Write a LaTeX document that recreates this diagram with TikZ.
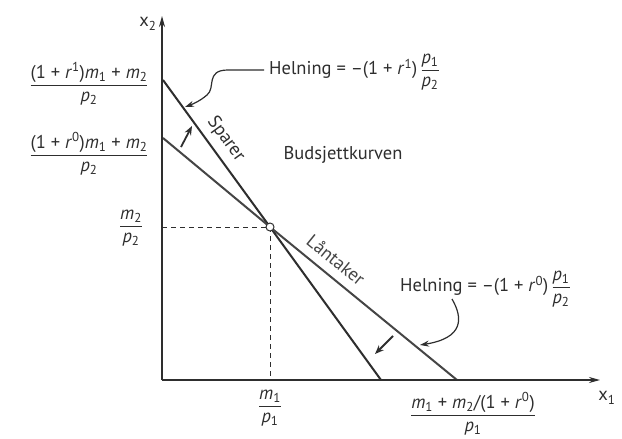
\documentclass[tikz,border=0pt]{standalone}
\usepackage{fontspec}
\setmainfont{PT Sans}
\usetikzlibrary{arrows.meta}
\newcommand{\myfr}[2]{$\displaystyle\frac{\mbox{#1}}{\mbox{#2}}$}
\newcommand{\ssub}[1]{\textsubscript{#1}}
\newcommand{\ssup}[1]{\textsuperscript{#1}}
\definecolor{ink}{HTML}{2E2E2E}
\definecolor{inkb}{HTML}{454545}
\tikzset{
  axis/.style={line width=1.5pt, draw=ink, -{Stealth[length=11pt,width=6pt]}},
  budget/.style={line width=2pt, draw=ink},
  budgetb/.style={line width=2pt, draw=inkb},
  guide/.style={line width=0.9pt, draw=ink, dash pattern=on 5pt off 4pt},
  shift arrow/.style={line width=1.8pt, draw=ink, -{Stealth[length=9pt,width=7pt]}},
  callout/.style={line width=1.2pt, draw=ink, -{Stealth[length=9pt,width=6pt]}},
  lbl/.style={text=ink, inner sep=1pt},
}
\begin{document}
\begin{tikzpicture}[x=1pt,y=-1pt, font=\fontsize{18.5}{22}\selectfont]
\useasboundingbox[fill=white] (0,0) rectangle (622,439);
% key points
\coordinate (O) at (162,380);
\coordinate (Ytop) at (162,16);
\coordinate (Xend) at (600,380);
\coordinate (A1) at (163,80);
\coordinate (B1) at (381,380);
\coordinate (A0) at (163,138);
\coordinate (B0) at (457,380);
\coordinate (Pc) at (270,227);
\coordinate (Py) at (162,227);
\coordinate (Px) at (270,380);
% guides
\draw[guide] (Py) -- (Pc) -- (Px);
% budget lines
\draw[budget] (A1) -- (Pc) -- (B1);
\draw[budgetb] (A0) -- (Pc) -- (B0);
% axes
\draw[axis] (O) -- (Ytop);
\draw[axis] (O) -- (Xend);
% intersection point
\node[circle, draw=ink, fill=white, line width=1pt, inner sep=0pt, minimum size=8pt] (P) at (Pc) {};
% axis labels
\node[lbl] (x2) at (148,24) {x\ssub{2}};
\node[lbl] (x1) at (607,398) {x\ssub{1}};
% y-axis values
\node[lbl] (y1) at (89,84) {\myfr{(1 + \textit{r}\ssup{1})\textit{m}\ssub{1} + \textit{m}\ssub{2}}{\textit{p}\ssub{2}}};
\node[lbl] (y0) at (89,154) {\myfr{(1 + \textit{r}\ssup{0})\textit{m}\ssub{1} + \textit{m}\ssub{2}}{\textit{p}\ssub{2}}};
\node[lbl] (ym) at (131,228) {\myfr{\textit{m}\ssub{2}}{\textit{p}\ssub{2}}};
% x-axis values
\node[lbl] (xm) at (270,408) {\myfr{\textit{m}\ssub{1}}{\textit{p}\ssub{1}}};
\node[lbl] (xe) at (473,414) {\myfr{\textit{m}\ssub{1} + \textit{m}\ssub{2}/(1 + \textit{r}\ssup{0})}{\textit{p}\ssub{1}}};
% line labels
\node[lbl, rotate=-54] (sp) at (226,139) {Sparer};
\node[lbl, rotate=-39, text=inkb] (la) at (336,260) {Låntaker};
\node[lbl] (bk) at (343,155) {Budsjettkurven};
% slope labels
\node[lbl, anchor=west] (h1) at (268,72) {Helning = –(1 + \textit{r}\ssup{1})\,\myfr{\textit{p}\ssub{1}}{\textit{p}\ssub{2}}};
\node[lbl, anchor=west] (h0) at (399,289) {Helning = –(1 + \textit{r}\ssup{0})\,\myfr{\textit{p}\ssub{1}}{\textit{p}\ssub{2}}};
% callout arrows
\coordinate (c1s) at (264,70);
\coordinate (c1e) at (185,107);
\draw[callout] (c1s) -- (228,70) .. controls (205,70) and (216,88) .. (207,95) .. controls (200,101) and (193,104) .. (c1e);
\coordinate (c0s) at (452,299);
\coordinate (c0e) at (420,345);
\draw[callout] (c0s) .. controls (463,318) and (464,338) .. (c0e);
% shift arrows
\coordinate (u1) at (181,147);
\coordinate (u2) at (192,126);
\draw[shift arrow] (u1) -- (u2);
\coordinate (d1) at (393,336);
\coordinate (d2) at (375,354);
\draw[shift arrow] (d1) -- (d2);
\end{tikzpicture}
\end{document}
